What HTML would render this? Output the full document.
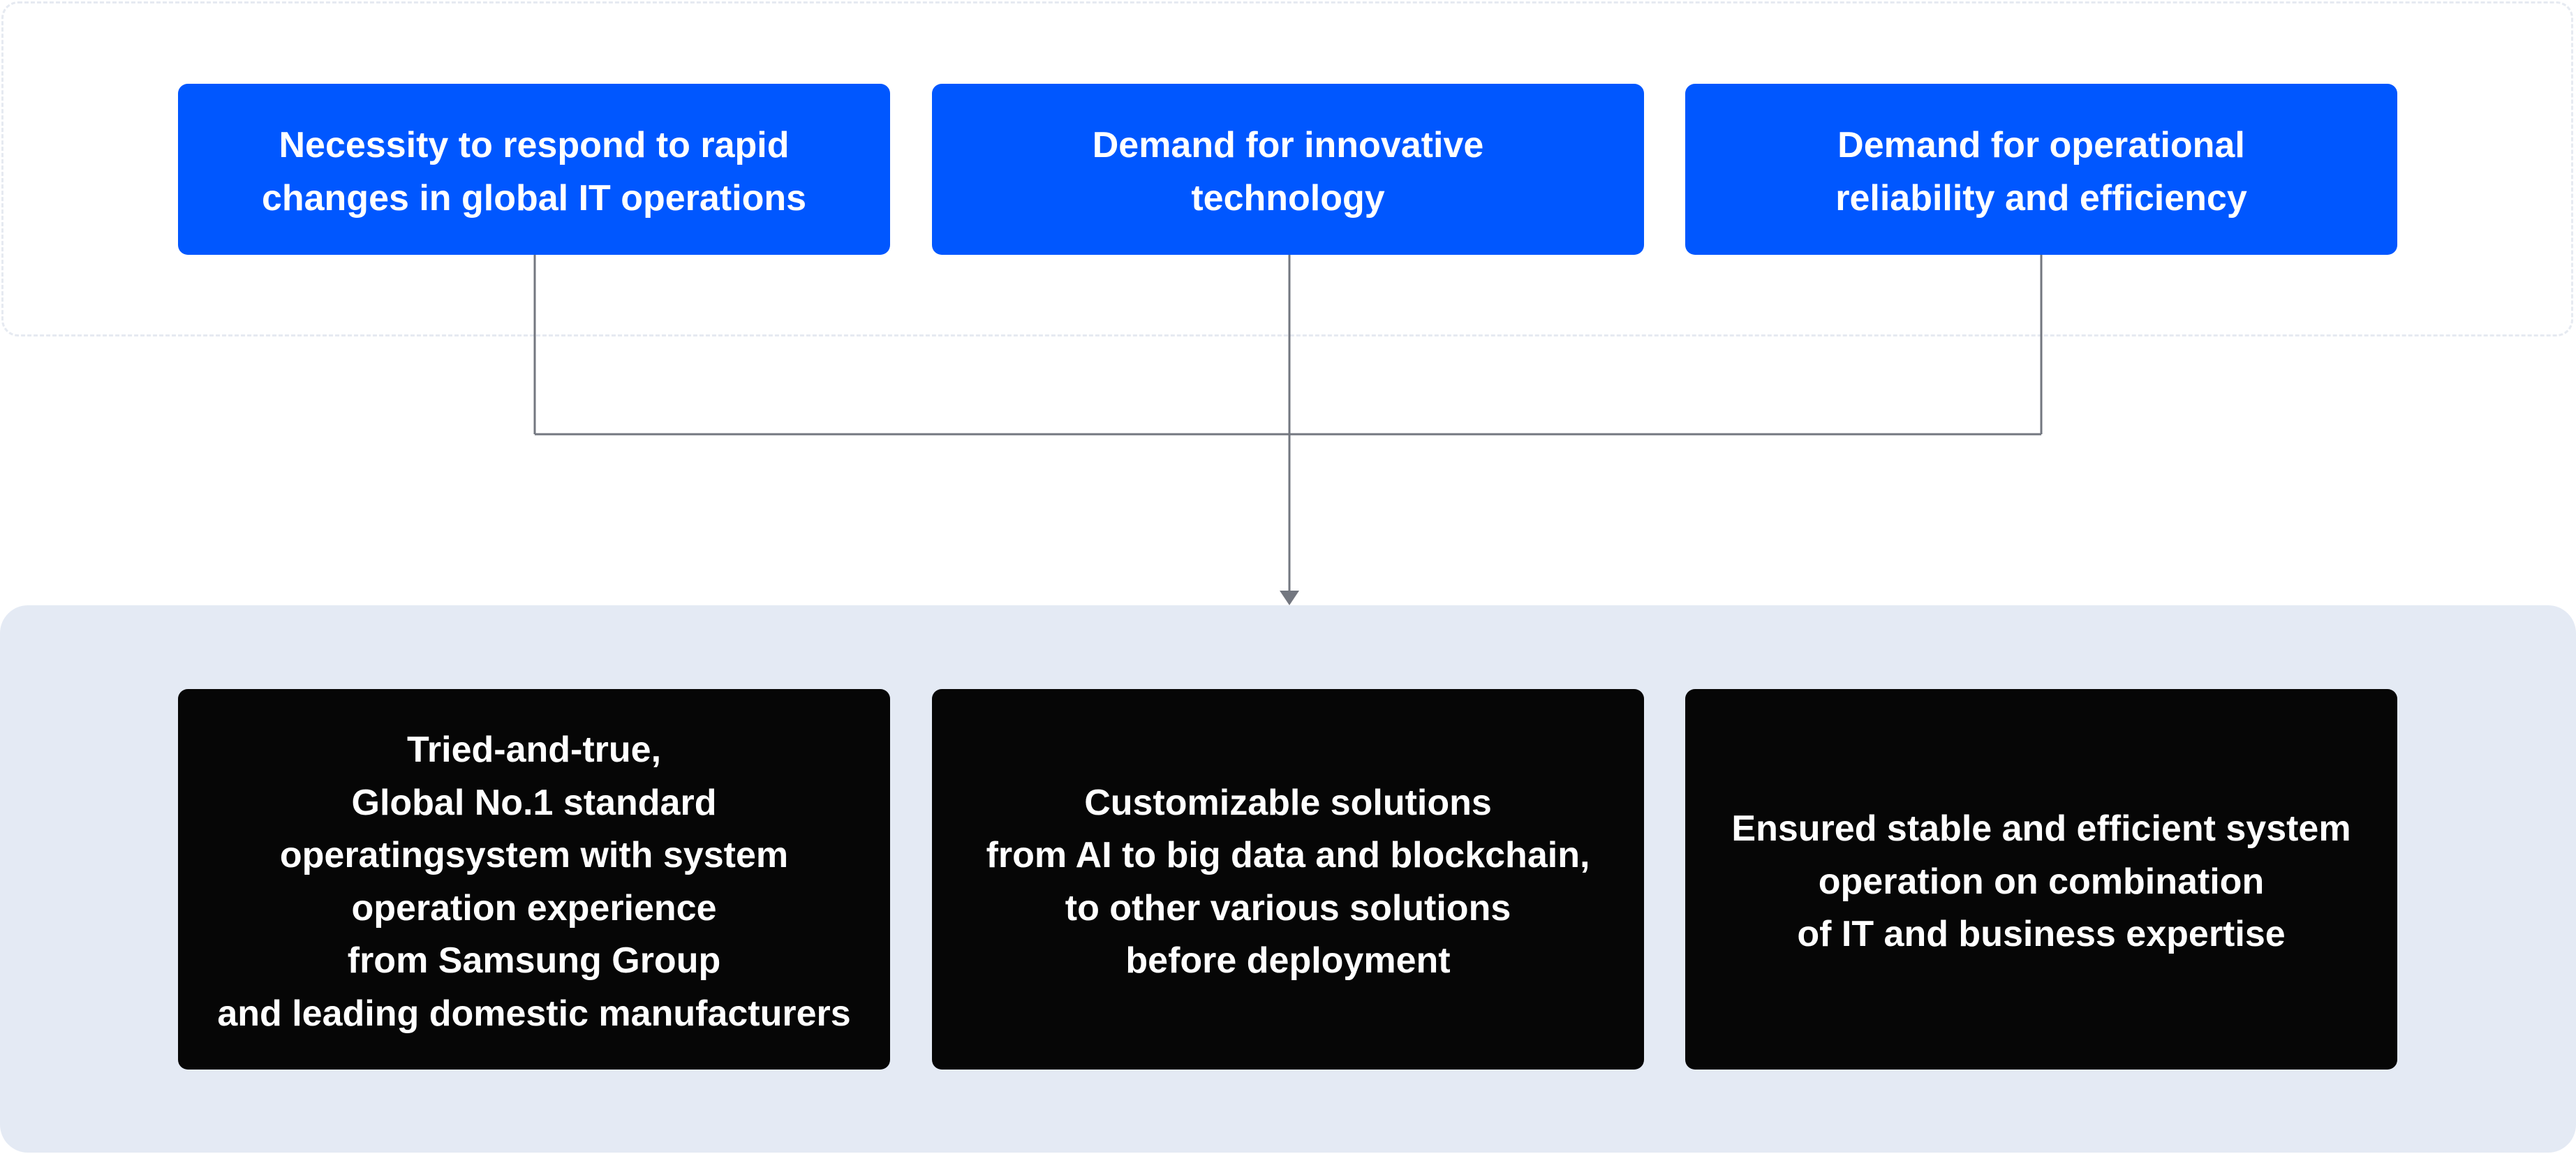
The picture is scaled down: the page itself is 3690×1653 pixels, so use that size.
<!DOCTYPE html>
<html><head><meta charset="utf-8"><style>
html,body{margin:0;padding:0;background:#fff;}
body{width:3690px;height:1653px;position:relative;overflow:hidden;font-family:"Liberation Sans",sans-serif;}
.top{position:absolute;left:2px;top:2px;width:3684px;height:480px;border:3px dashed #e6eaf1;border-radius:24px;box-sizing:border-box;}
.panel{position:absolute;left:0;top:867px;width:3690px;height:784px;background:#e4eaf4;border-radius:40px;}
.box{position:absolute;width:1020px;display:flex;align-items:center;justify-content:center;text-align:center;color:#fff;font-weight:bold;font-size:52px;line-height:75.5px;border-radius:14px;letter-spacing:0px;box-sizing:border-box;padding-top:8px;}
.blue{top:120px;height:245px;background:#0057ff;}
.black{top:987px;height:545px;background:#060606;}
</style></head><body>
<div class="top"></div>
<div class="panel"></div>
<svg width="3690" height="1653" style="position:absolute;left:0;top:0">
<g stroke="#737780" stroke-width="3" fill="none">
<line x1="766" y1="365" x2="766" y2="622"/>
<line x1="2924" y1="365" x2="2924" y2="622"/>
<line x1="766" y1="622" x2="2924" y2="622"/>
<line x1="1847" y1="365" x2="1847" y2="848"/>
</g>
<polygon points="1833,846 1861,846 1847,867" fill="#737780"/>
</svg>
<div class="box blue" style="left:255px">Necessity to respond to rapid<br>changes in global IT operations</div>
<div class="box blue" style="left:1335px">Demand for innovative<br>technology</div>
<div class="box blue" style="left:2414px">Demand for operational<br>reliability and efficiency</div>
<div class="box black" style="left:255px">Tried-and-true,<br>Global No.1 standard<br>operatingsystem with system<br>operation experience<br>from Samsung Group<br>and leading domestic manufacturers</div>
<div class="box black" style="left:1335px">Customizable solutions<br>from AI to big data and blockchain,<br>to other various solutions<br>before deployment</div>
<div class="box black" style="left:2414px">Ensured stable and efficient system<br>operation on combination<br>of IT and business expertise</div>
</body></html>
